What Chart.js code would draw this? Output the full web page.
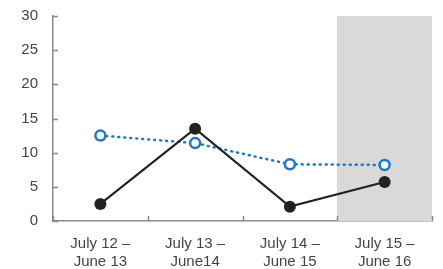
<!DOCTYPE html>
<html>
<head>
<meta charset="utf-8">
<script src="https://cdn.jsdelivr.net/npm/chart.js@4.4.1/dist/chart.umd.min.js"></script>
<style>
  html, body { margin: 0; padding: 0; background: #fff; }
  #wrap { width: 443px; height: 269px; }
</style>
</head>
<body>
<div id="wrap"><canvas id="chart"></canvas></div>
<script>
const categories = [
  ["July 12 –", "June 13"],
  ["July 13 –", "June14"],
  ["July 14 –", "June 15"],
  ["July 15 –", "June 16"],
];
const blueValues = [12.5, 11.4, 8.3, 8.2];
const blackValues = [2.5, 13.5, 2.1, 5.7];
const shadeValues = [null, null, null, 30];
const yTicks = [0, 5, 10, 15, 20, 25, 30];

const axisColor = "#8a8a8a";
const textColor = "#444444";

// short tick marks pointing into the plot, like the original
const innerTicks = {
  id: "innerTicks",
  afterDatasetsDraw(chart) {
    const { ctx, scales: { x, y } } = chart;
    ctx.save();
    ctx.strokeStyle = axisColor;
    ctx.lineWidth = 1.5;
    ctx.beginPath();
    yTicks.forEach(v => {
      const py = Math.round(y.getPixelForValue(v)) + 0.5;
      ctx.moveTo(x.left, py);
      ctx.lineTo(x.left + 5, py);
    });
    for (let i = 0; i <= categories.length; i++) {
      const px = Math.round(x.getPixelForValue(i - 0.5)) + 0.5;
      ctx.moveTo(px, y.bottom);
      ctx.lineTo(px, y.bottom - 5);
    }
    ctx.stroke();
    ctx.restore();
  }
};

new Chart(document.getElementById("chart"), {
  data: {
    labels: categories,
    datasets: [
      {
        type: "line",
        label: "Blue",
        data: blueValues,
        borderColor: "#2077c2",
        borderWidth: 2.5,
        borderDash: [1, 5],
        borderCapStyle: "round",
        pointRadius: 5,
        pointBorderWidth: 2.5,
        pointBackgroundColor: "#ffffff",
        pointBorderColor: "#2077c2",
        order: 2,
      },
      {
        type: "line",
        label: "Black",
        data: blackValues,
        borderColor: "#222222",
        borderWidth: 2.2,
        pointRadius: 6,
        pointBorderWidth: 0,
        pointBackgroundColor: "#222222",
        order: 1,
      },
      {
        type: "bar",
        label: "Shade",
        data: shadeValues,
        backgroundColor: "#d9d9d9",
        barPercentage: 1,
        categoryPercentage: 1,
        order: 3,
      },
    ]
  },
  options: {
    responsive: true,
    maintainAspectRatio: false,
    animation: false,
    layout: {
      padding: { top: 16, right: 11, left: 0, bottom: 0 }
    },
    scales: {
      x: {
        offset: true,
        grid: { display: false, drawTicks: false },
        border: { display: true, color: axisColor, width: 1.5 },
        ticks: {
          color: textColor,
          padding: 13,
          maxRotation: 0,
          font: { family: "Liberation Sans", size: 15, lineHeight: 1.25 },
        },
        afterFit(scale) {
          scale.height = 48;
          scale.paddingLeft = 0;
          scale.paddingRight = 0;
        },
      },
      y: {
        min: 0,
        max: 30,
        grid: { display: false, drawTicks: false },
        border: { display: true, color: axisColor, width: 1.5 },
        ticks: {
          stepSize: 5,
          color: textColor,
          padding: 15,
          font: { family: "Liberation Sans", size: 15 },
        },
        afterFit(scale) {
          scale.width = 53;
          scale.paddingTop = 0;
          scale.paddingBottom = 0;
        },
      }
    },
    plugins: {
      legend: { display: false },
      tooltip: { enabled: false },
    }
  },
  plugins: [innerTicks],
});
</script>
</body>
</html>
